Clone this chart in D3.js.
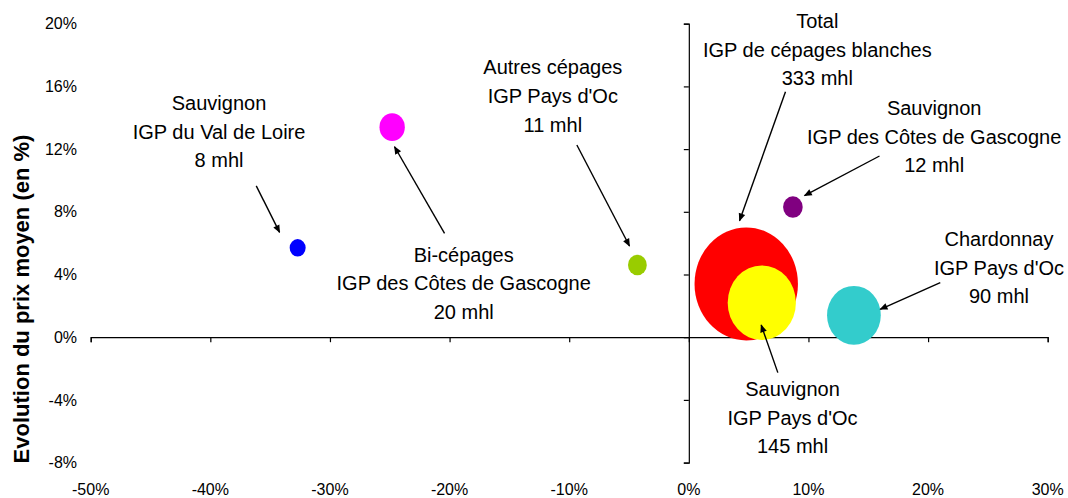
<!DOCTYPE html>
<html>
<head>
<meta charset="utf-8">
<script src="https://cdn.jsdelivr.net/npm/d3@7/dist/d3.min.js"></script>
<style>
  html, body { margin: 0; padding: 0; background: #fff; }
  svg { display: block; font-family: "Liberation Sans", Arial, sans-serif; }
</style>
</head>
<body>
<svg id="chart" width="1068" height="498"></svg>
<script>
// ---- Data ----
const categories = [
  "Sauvignon IGP du Val de Loire",
  "Bi-cépages IGP des Côtes de Gascogne",
  "Autres cépages IGP Pays d'Oc",
  "Total IGP de cépages blanches",
  "Sauvignon IGP Pays d'Oc",
  "Sauvignon IGP des Côtes de Gascogne",
  "Chardonnay IGP Pays d'Oc"
];
const xValues = [-32.7, -24.8, -4.3, 4.8, 6.1, 8.7, 13.8];   // % (x axis)
const yValues = [5.7, 13.4, 4.6, 3.4, 2.2, 8.3, 1.4];        // évolution du prix moyen (%)
const volumes = [8, 20, 11, 333, 145, 12, 90];               // mhl (bubble size)
const labelLines = [
  ["Sauvignon", "IGP du Val de Loire", "8 mhl"],
  ["Bi-cépages", "IGP des Côtes de Gascogne", "20 mhl"],
  ["Autres cépages", "IGP Pays d'Oc", "11 mhl"],
  ["Total", "IGP de cépages blanches", "333 mhl"],
  ["Sauvignon", "IGP Pays d'Oc", "145 mhl"],
  ["Sauvignon", "IGP des Côtes de Gascogne", "12 mhl"],
  ["Chardonnay", "IGP Pays d'Oc", "90 mhl"]
];
const xTicks = [-50, -40, -30, -20, -10, 0, 10, 20, 30];
const yTicks = [-8, -4, 0, 4, 8, 12, 16, 20];

// annotation anchors (data units): label centre x / first baseline y, arrow tail -> head
const labelX = [-39.27, -18.82, -11.37, 10.74, 8.67, 20.51, 25.93];
const labelY = [14.49, 4.82, 16.77, 19.71, -3.75, 14.18, 5.82];
const arrowFrom = [[-36.16, 9.65], [-20.42, 6.63], [-9.36, 12.26], [8.08, 15.66], [7.44, -2.26], [15.94, 11.56], [21.02, 3.48]];
const arrowTo   = [[-34.21, 6.69], [-24.60, 12.15], [-4.96, 5.82], [4.24, 7.43], [6.05, 0.78], [9.67, 9.03], [16.0, 1.78]];

// styles
const colors = ["#0000FF", "#FF00FF", "#99CC00", "#FF0000", "#FFFF00", "#800080", "#33CCCC"];

// ---- Chart ----
const svg = d3.select("#chart");
const x = d3.scaleLinear().domain([-50, 30]).range([90.7, 1047.7]);
const y = d3.scaleLinear().domain([-8, 20]).range([462.6, 23.7]);
const r = d3.scaleSqrt().domain([0, 333]).range([0, 56.5]);
const squash = 0.915;

const pts = categories.map((c, i) => ({
  name: c, x: xValues[i], y: yValues[i], v: volumes[i], color: colors[i],
  lines: labelLines[i], lx: labelX[i], ly: labelY[i], from: arrowFrom[i], to: arrowTo[i]
}));

// axes
const xAxis = d3.axisBottom(x).tickValues(xTicks).tickSize(5).tickFormat("");
const yAxis = d3.axisLeft(y).tickValues(yTicks).tickSize(5).tickFormat("");

const gx = svg.append("g").attr("transform", `translate(0,${y(0)})`).call(xAxis);
const gy = svg.append("g").attr("transform", `translate(${x(0)},0)`).call(yAxis);
[gx, gy].forEach(g => {
  g.select(".domain").attr("stroke", "#000").attr("stroke-width", 1.2);
  g.selectAll(".tick line").attr("stroke", "#000").attr("stroke-width", 1.2);
});

// tick labels (low positions)
svg.append("g").selectAll("text").data(xTicks).join("text")
  .attr("x", d => x(d)).attr("y", 495)
  .attr("text-anchor", "middle").attr("font-size", 16).attr("fill", "#000")
  .text(d => d + "%");
svg.append("g").selectAll("text").data(yTicks).join("text")
  .attr("x", 77).attr("y", d => y(d)).attr("dy", "0.35em")
  .attr("text-anchor", "end").attr("font-size", 16).attr("fill", "#000")
  .text(d => d + "%");

// y axis title
svg.append("text")
  .attr("transform", "translate(28.5,299) rotate(-90)")
  .attr("text-anchor", "middle").attr("font-size", 22).attr("font-weight", "bold").attr("fill", "#000")
  .text("Evolution du prix moyen (en %)");

// bubbles
svg.append("g").selectAll("ellipse").data(pts).join("ellipse")
  .attr("cx", d => x(d.x)).attr("cy", d => y(d.y))
  .attr("rx", d => r(d.v) * squash).attr("ry", d => r(d.v))
  .attr("fill", d => d.color);

// arrows
svg.append("defs").append("marker")
  .attr("id", "ah").attr("markerUnits", "userSpaceOnUse")
  .attr("viewBox", "0 0 10 10").attr("refX", 9).attr("refY", 5)
  .attr("markerWidth", 9).attr("markerHeight", 8).attr("orient", "auto")
  .append("path").attr("d", "M0,0.8 L10,5 L0,9.2 Z").attr("fill", "#000");

svg.append("g").selectAll("line").data(pts).join("line")
  .attr("x1", d => x(d.from[0])).attr("y1", d => y(d.from[1]))
  .attr("x2", d => x(d.to[0])).attr("y2", d => y(d.to[1]))
  .attr("stroke", "#000").attr("stroke-width", 1.4)
  .attr("marker-end", "url(#ah)");

// labels
const lg = svg.append("g").selectAll("text").data(pts).join("text")
  .attr("x", d => x(d.lx)).attr("y", d => y(d.ly))
  .attr("text-anchor", "middle").attr("font-size", 20).attr("fill", "#000");
lg.selectAll("tspan").data(d => d.lines.map(t => ({t, cx: x(d.lx)}))).join("tspan")
  .attr("x", d => d.cx).attr("dy", (d, i) => i === 0 ? 0 : 28.6)
  .text(d => d.t);
</script>
</body>
</html>
